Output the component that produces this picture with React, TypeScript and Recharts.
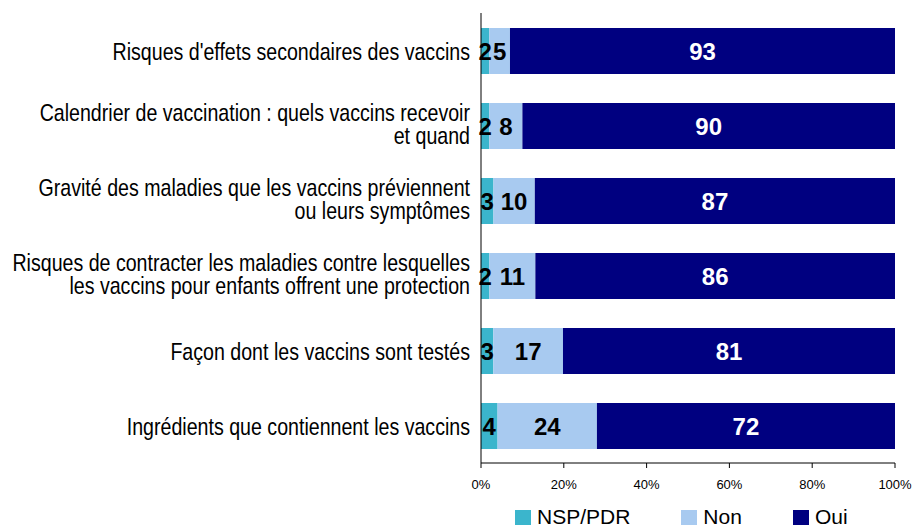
import { Bar, BarChart, LabelList, Legend, XAxis, YAxis } from "recharts";

const categories = [
  "Risques d'effets secondaires des vaccins",
  "Calendrier de vaccination : quels vaccins recevoir\net quand",
  "Gravité des maladies que les vaccins préviennent\nou leurs symptômes",
  "Risques de contracter les maladies contre lesquelles\nles vaccins pour enfants offrent une protection",
  "Façon dont les vaccins sont testés",
  "Ingrédients que contiennent les vaccins",
];
const nspValues = [2, 2, 3, 2, 3, 4];
const nonValues = [5, 8, 10, 11, 17, 24];
const ouiValues = [93, 90, 87, 86, 81, 72];
const xTicks = [0, 0.2, 0.4, 0.6, 0.8, 1];

const series = [
  { key: "nsp", name: "NSP/PDR", color: "#3BB5CC", label: "#000" },
  { key: "non", name: "Non", color: "#A8CAF0", label: "#000" },
  { key: "oui", name: "Oui", color: "#000080", label: "#fff" },
];

const data = categories.map((name, i) => ({
  name,
  nsp: nspValues[i],
  non: nonValues[i],
  oui: ouiValues[i],
}));

const FONT = "'Liberation Sans', Arial, sans-serif";

// category labels are a horizontally squeezed Arial in the original
function CategoryTick({ x, y, payload }: any) {
  const lines = String(payload.value).split("\n");
  const lh = 23;
  const first = lines.length === 1 ? 9 : -5;
  return (
    <g transform={`translate(${x - 3},${y}) scale(0.817,1)`}>
      <text x={0} y={first} textAnchor="end" fontFamily={FONT} fontSize={24} fill="#000">
        {lines.map((l, i) => (
          <tspan key={i} x={0} dy={i === 0 ? 0 : lh}>
            {l}
          </tspan>
        ))}
      </text>
    </g>
  );
}

function LegendContent() {
  return (
    <div style={{ display: "flex", alignItems: "center", fontFamily: FONT, fontSize: 21, color: "#000" }}>
      {series.map((s) => (
        <div key={s.key} style={{ display: "flex", alignItems: "center", marginRight: 51 }}>
          <div style={{ width: 16, height: 15, background: s.color, marginRight: 6 }} />
          <span>{s.name}</span>
        </div>
      ))}
    </div>
  );
}

export default function App() {
  return (
    <div style={{ position: "absolute", left: 0, top: 0, background: "#fff" }}>
      <BarChart
        width={917}
        height={527}
        data={data}
        layout="vertical"
        stackOffset="expand"
        barSize={46}
        margin={{ top: 13, right: 22, left: 0, bottom: 10 }}
      >
        <XAxis
          type="number"
          domain={[0, 1]}
          ticks={xTicks}
          tickFormatter={(v: number) => `${Math.round(v * 100)}%`}
          axisLine={{ stroke: "#000" }}
          tickLine={{ stroke: "#000" }}
          tickSize={5}
          tickMargin={12}
          tick={{ fill: "#000", fontSize: 13, fontFamily: FONT }}
          interval={0}
        />
        <YAxis
          type="category"
          dataKey="name"
          width={481}
          axisLine={{ stroke: "#000" }}
          tickLine={false}
          tick={<CategoryTick />}
          interval={0}
        />
        <Legend
          verticalAlign="bottom"
          content={<LegendContent />}
          wrapperStyle={{ left: 515, bottom: -2, width: 400, height: 24 }}
        />
        {series.map((s) => (
          <Bar key={s.key} dataKey={s.key} name={s.name} stackId="a" fill={s.color} isAnimationActive={false}>
            <LabelList
              dataKey={s.key}
              position="center"
              fill={s.label}
              fontSize={24}
              fontWeight="bold"
              fontFamily={FONT}
            />
          </Bar>
        ))}
      </BarChart>
    </div>
  );
}
